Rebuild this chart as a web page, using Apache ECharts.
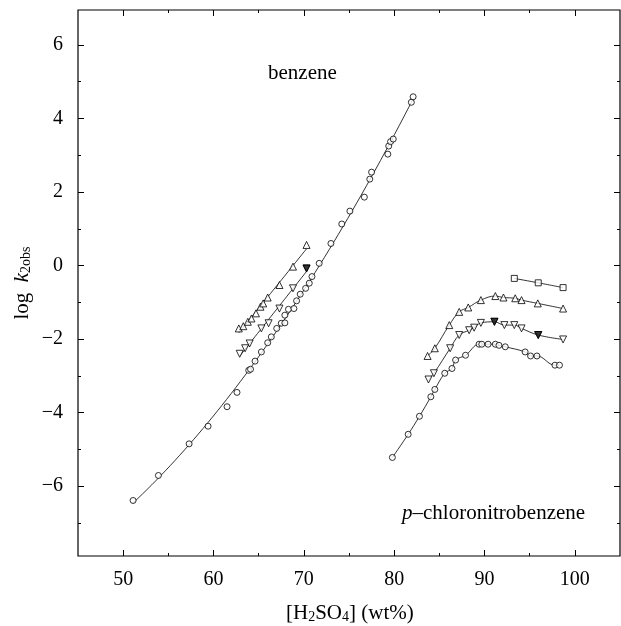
<!DOCTYPE html>
<html><head><meta charset="utf-8">
<script src="https://cdn.jsdelivr.net/npm/echarts@6/dist/echarts.min.js"></script>
<style>html,body{margin:0;padding:0;background:#fff}#c{width:621px;height:626px}</style>
</head><body><div id="c"></div>
<script>
// ---- data ----
const xMajor = [50, 60, 70, 80, 90, 100];
const xMinor = [55, 65, 75, 85, 95];
const yMajor = [-6, -4, -2, 0, 2, 4, 6];
const yMinor = [-7, -5, -3, -1, 1, 3, 5];

const benzCircle = [[51.1,-6.39],[53.9,-5.71],[57.3,-4.85],[59.4,-4.37],[61.5,-3.84],[62.6,-3.45],[63.9,-2.85],[64.1,-2.82],[64.6,-2.6],[65.3,-2.35],[66.0,-2.1],[66.4,-1.94],[67.0,-1.71],[67.5,-1.57],[67.9,-1.56],[67.9,-1.35],[68.3,-1.19],[68.9,-1.17],[69.2,-0.96],[69.6,-0.78],[70.2,-0.62],[70.6,-0.48],[70.9,-0.30],[71.7,0.06],[73.0,0.60],[74.2,1.13],[75.1,1.48],[76.7,1.86],[77.3,2.35],[77.5,2.54],[79.3,3.03],[79.4,3.25],[79.6,3.37],[79.9,3.44],[81.9,4.44],[82.1,4.59]];
const benzUp = [[62.8,-1.71],[63.3,-1.65],[63.8,-1.53],[64.2,-1.44],[64.7,-1.30],[65.2,-1.12],[65.5,-1.03],[66.0,-0.87],[67.3,-0.53],[68.8,-0.03],[70.3,0.56]];
const benzDown = [[62.9,-2.4],[63.5,-2.25],[64.0,-2.12],[65.3,-1.71],[66.1,-1.57],[67.3,-1.17],[68.8,-0.62],[70.3,-0.08]];

const pcnCircle = [[79.8,-5.22],[81.55,-4.59],[82.8,-4.10],[84.06,-3.57],[84.5,-3.37],[85.6,-2.93],[86.4,-2.80],[86.8,-2.57],[87.9,-2.44],[89.4,-2.14],[89.7,-2.14],[90.4,-2.14],[91.2,-2.14],[91.6,-2.17],[92.3,-2.21],[94.5,-2.35],[95.1,-2.46],[95.8,-2.46],[97.8,-2.71],[98.3,-2.71]];
const pcnUp = [[83.7,-2.46],[84.5,-2.25],[86.1,-1.62],[87.2,-1.26],[88.2,-1.14],[89.6,-0.94],[91.2,-0.83],[92.1,-0.87],[93.4,-0.89],[94.1,-0.94],[95.9,-1.03],[98.7,-1.17]];
const pcnDown = [[83.8,-3.10],[84.4,-2.93],[86.2,-2.25],[87.2,-1.89],[88.3,-1.76],[88.85,-1.69],[89.6,-1.56],[91.1,-1.53],[92.2,-1.62],[93.3,-1.62],[94.1,-1.71],[95.95,-1.89],[98.7,-2.01]];
const pcnSquare = [[93.3,-0.35],[95.95,-0.47],[98.7,-0.60]];
const filledDown = [[70.3,-0.08],[91.1,-1.53],[95.95,-1.89]];

// ---- helpers ----
function polyfit(pts, deg){
  const n = deg+1, A = [], b = [];
  for(let i=0;i<n;i++){A.push(new Array(n).fill(0)); b.push(0);}
  pts.forEach(([x,y])=>{for(let i=0;i<n;i++){for(let j=0;j<n;j++)A[i][j]+=Math.pow(x,i+j);b[i]+=y*Math.pow(x,i);}});
  for(let i=0;i<n;i++){let p=i;for(let k=i+1;k<n;k++)if(Math.abs(A[k][i])>Math.abs(A[p][i]))p=k;
    [A[i],A[p]]=[A[p],A[i]];[b[i],b[p]]=[b[p],b[i]];
    for(let k=i+1;k<n;k++){const f=A[k][i]/A[i][i];for(let j=i;j<n;j++)A[k][j]-=f*A[i][j];b[k]-=f*b[i];}}
  const c=new Array(n).fill(0);
  for(let i=n-1;i>=0;i--){let s=b[i];for(let j=i+1;j<n;j++)s-=A[i][j]*c[j];c[i]=s/A[i][i];}
  return c;
}
function fitLine(pts, deg){
  const c = polyfit(pts, deg);
  const x0 = pts[0][0], x1 = pts[pts.length-1][0], out=[];
  for(let k=0;k<=60;k++){const x=x0+(x1-x0)*k/60;let y=0;for(let i=0;i<c.length;i++)y+=c[i]*Math.pow(x,i);out.push([x,y]);}
  return out;
}

const serif = 'Liberation Serif';
const lineStyle = {color:'#000', width:0.8};
function curve(data, smooth){return {type:'line', data, smooth, showSymbol:false, symbol:'none', lineStyle, z:2, silent:true};}
function marks(data, symbol, size, rotate, fill){
  return {type:'scatter', data, symbol, symbolSize:size, symbolRotate:rotate||0,
    itemStyle:{color:fill||'#fff', borderColor:'#000', borderWidth:1}, z:3, silent:true};
}

const baseX = {type:'value', min:45, max:105, splitLine:{show:false}, axisLine:{show:false, onZero:false}};
const baseY = {type:'value', min:-7.9, max:6.95, splitLine:{show:false}, axisLine:{show:false, onZero:false}};
const tick = (vals,len)=>({show:true, inside:true, length:len, customValues:vals, lineStyle:{color:'#000',width:1}});

const option = {
  animation:false,
  backgroundColor:'#fff',
  grid:{left:78, right:1, top:10, bottom:70, show:true, borderColor:'#000', borderWidth:1.2},
  xAxis:[
    Object.assign({}, baseX, {position:'bottom', axisTick:tick(xMajor,6), axisLabel:{customValues:xMajor, margin:14, fontFamily:serif, fontSize:20, color:'#000'}}),
    Object.assign({}, baseX, {position:'bottom', axisTick:tick(xMinor,3), axisLabel:{show:false}}),
    Object.assign({}, baseX, {position:'top', axisTick:tick(xMajor,6), axisLabel:{show:false}}),
    Object.assign({}, baseX, {position:'top', axisTick:tick(xMinor,3), axisLabel:{show:false}})
  ],
  yAxis:[
    Object.assign({}, baseY, {position:'left', axisTick:tick(yMajor,6), axisLabel:{customValues:yMajor, margin:15, fontFamily:serif, fontSize:20, color:'#000', formatter:v=>v<0?'\u2212'+Math.abs(v):String(v)}}),
    Object.assign({}, baseY, {position:'left', axisTick:tick(yMinor,3), axisLabel:{show:false}}),
    Object.assign({}, baseY, {position:'right', axisTick:tick(yMajor,6), axisLabel:{show:false}}),
    Object.assign({}, baseY, {position:'right', axisTick:tick(yMinor,3), axisLabel:{show:false}})
  ],
  series:[
    curve(fitLine(benzCircle,2), false),
    curve(fitLine(benzUp,1), false),
    curve(fitLine(benzDown,1), false),
    curve(pcnCircle, 0.4),
    curve(pcnUp, 0.4),
    curve(pcnDown, 0.4),
    curve(pcnSquare, 0.3),
    marks(benzCircle,'circle',6),
    marks(benzUp,'triangle',7),
    marks(benzDown,'triangle',7,180),
    marks(pcnCircle,'circle',6),
    marks(pcnUp,'triangle',7),
    marks(pcnDown,'triangle',7,180),
    marks(pcnSquare,'rect',6),
    marks(filledDown,'triangle',7,180,'#000')
  ],
  graphic:[
    {type:'text', left:268, top:63, style:{text:'benzene', font:'21px "Liberation Serif"', fill:'#000'}},
    {type:'text', left:402, top:503, style:{
      text:'{i|p}\u2013chloronitrobenzene', fill:'#000',
      rich:{i:{fontFamily:serif, fontStyle:'italic', fontSize:21}}, font:'21px "Liberation Serif"'}},
    {type:'text', left:286, top:603, style:{
      text:'[H{s|2}SO{s|4}] (wt%)', fill:'#000', font:'21px "Liberation Serif"',
      rich:{s:{fontFamily:serif, fontSize:14, verticalAlign:'bottom', padding:[8,0,0,0]}}}},
    {type:'text', x:22, y:283, rotation:Math.PI/2, style:{
      text:'log  {i|k}{s|2obs}', fill:'#000', font:'21px "Liberation Serif"', align:'center', verticalAlign:'middle',
      rich:{i:{fontFamily:serif, fontStyle:'italic', fontSize:21}, s:{fontFamily:serif, fontSize:14, padding:[8,0,0,0]}}}}
  ]
};
echarts.init(document.getElementById('c')).setOption(option);
</script></body></html>
